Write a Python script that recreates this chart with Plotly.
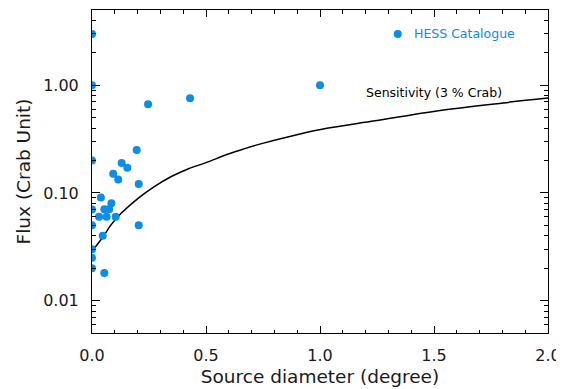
import math
import plotly.graph_objects as go

# HESS catalogue sources: diameter (degree) and flux (Crab units)
hess_x = [0, 0, 0, 0, 0, 0, 0, 0, 0.196, 0.130, 0.155, 0.093, 0.115, 0.205,
          0.039, 0.085, 0.054, 0.075, 0.031, 0.064, 0.104, 0.205, 0.047, 0.054,
          0.246, 0.43, 1.0]
hess_y = [3.0, 1.0, 0.2, 0.07, 0.05, 0.03, 0.025, 0.02, 0.25, 0.19, 0.171, 0.151,
          0.133, 0.121, 0.0905, 0.080, 0.0706, 0.0706, 0.06, 0.06, 0.06, 0.05, 0.04,
          0.018, 0.667, 0.758, 1.0]

# Sensitivity curve (3 % Crab)
sens_x = [0.012, 0.048, 0.085, 0.129, 0.202, 0.275, 0.348, 0.421, 0.50, 0.598, 0.67,
          0.744, 0.890, 1.036, 1.241, 1.512, 1.804, 2.0]
sens_y = [0.031, 0.039, 0.051, 0.065, 0.089, 0.115, 0.142, 0.167, 0.191, 0.230, 0.258,
          0.287, 0.344, 0.40, 0.468, 0.578, 0.686, 0.76]

# Tick labels
x_ticks = [0.0, 0.5, 1.0, 1.5, 2.0]
x_ticktext = ["0.0", "0.5", "1.0", "1.5", "2.0"]
y_ticks = [0.01, 0.1, 1.0]
y_ticktext = ["0.01", "0.10", "1.00"]

# legend entry (drawn in data space like the original)
legend_x = [1.341]
legend_y = [3.0]

BLUE = "#0b8de8"
FONT = "DejaVu Sans, sans-serif"

fig = go.Figure()
fig.add_trace(go.Scatter(x=sens_x, y=sens_y, mode="lines",
                         line=dict(color="black", width=1.5, shape="spline"),
                         showlegend=False, hoverinfo="skip"))
fig.add_trace(go.Scatter(x=hess_x, y=hess_y, mode="markers",
                         marker=dict(color=BLUE, size=8), showlegend=False))
fig.add_trace(go.Scatter(x=legend_x, y=legend_y, mode="markers",
                         marker=dict(color=BLUE, size=8), showlegend=False))

fig.add_annotation(x=1.407, y=math.log10(legend_y[0]), xref="x", yref="y",
                   text="HESS Catalogue",
                   showarrow=False, xanchor="left", yanchor="middle", borderpad=0,
                   font=dict(family=FONT, size=12.5, color=BLUE))
fig.add_annotation(x=1.197, y=math.log10(0.861), xref="x", yref="y",
                   text="Sensitivity (3 % Crab)",
                   showarrow=False, xanchor="left", yanchor="middle", borderpad=0,
                   font=dict(family=FONT, size=12.5, color="black"))

axis_common = dict(showline=True, linecolor="black", linewidth=1, mirror="allticks",
                   ticks="inside", tickcolor="black", showgrid=False, zeroline=False,
                   automargin=False,
                   tickfont=dict(family=FONT, size=16, color="#1a1a1a"))

fig.update_xaxes(range=[0, 2], tickvals=x_ticks, ticktext=x_ticktext, ticklen=7,
                 minor=dict(dtick=0.1, ticks="inside", ticklen=3.5, tickcolor="black",
                            showgrid=False),
                 title=dict(text="Source diameter (degree)", standoff=5,
                            font=dict(family=FONT, size=18.5, color="#1a1a1a")),
                 ticklabelstandoff=8, **axis_common)
fig.update_yaxes(type="log", range=[-2.301, 0.699], tickvals=y_ticks, ticktext=y_ticktext,
                 ticklen=8,
                 minor=dict(dtick="D1", ticks="inside", ticklen=4, tickcolor="black",
                            showgrid=False),
                 title=dict(text="Flux (Crab Unit)", standoff=7,
                            font=dict(family=FONT, size=18.5, color="#1a1a1a")),
                 ticklabelstandoff=9, **axis_common)

# the page body adds an 8 px offset, so the figure is 8 px smaller and margins shifted
fig.update_layout(width=556, height=381, margin=dict(l=84, r=16, t=1.5, b=55.5, pad=0),
                  plot_bgcolor="white", paper_bgcolor="white")

fig.write_html("out.html")
